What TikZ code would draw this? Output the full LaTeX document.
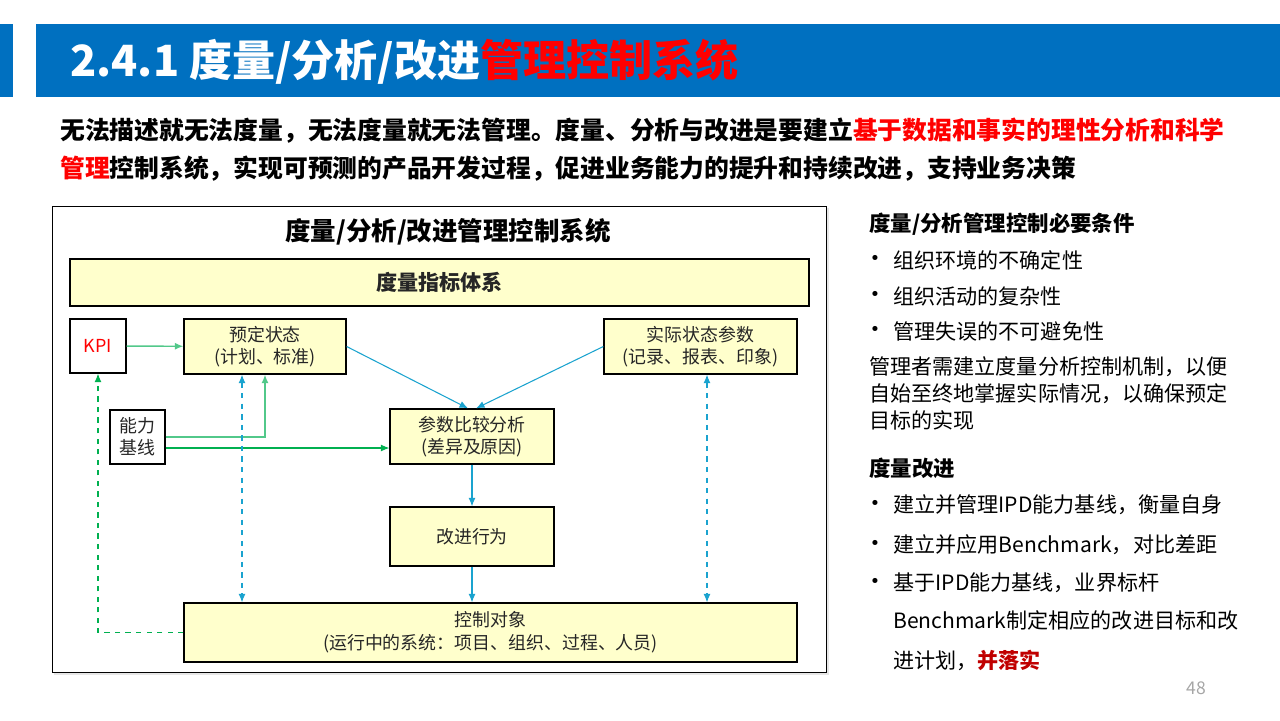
\documentclass[tikz,border=0pt]{standalone}
\usepackage{fontspec}
\setmainfont{Noto Sans CJK SC}
\newfontfamily\dotfont{DejaVu Sans}
\usepackage{tikz}
\usetikzlibrary{positioning,arrows.meta,shadows}
\definecolor{titleblue}{HTML}{0070C0}
\definecolor{boxyellow}{HTML}{FFFFCC}
\definecolor{linkblue}{HTML}{1AA3CF}
\definecolor{linkgreen}{HTML}{00B050}
\definecolor{softgreen}{HTML}{52C88A}
\definecolor{textgray}{HTML}{262626}
\definecolor{darkred}{HTML}{C00000}
\tikzset{
  blueflow/.style={-{Latex[length=1.7mm,width=1.4mm]}, linkblue, line width=0.6pt},
  bluedash/.style={{Latex[length=1.7mm,width=1.4mm]}-{Latex[length=1.7mm,width=1.4mm]}, linkblue, line width=0.6pt, dashed},
  greenflow/.style={-{Latex[length=1.7mm,width=1.4mm]}, linkgreen, line width=0.6pt},
  softflow/.style={-{Latex[length=1.7mm,width=1.4mm]}, softgreen, line width=0.8pt},
  greendash/.style={-{Latex[length=1.7mm,width=1.4mm]}, linkgreen, line width=0.6pt, dashed},
  statebox/.style={draw=black, line width=0.75pt, fill=boxyellow, align=center,
    font=\fontsize{10.2pt}{12.5pt}\selectfont,
    drop shadow={shadow xshift=0.8pt, shadow yshift=-0.8pt, opacity=0.25}},
  plainbox/.style={statebox, fill=white},
  panel/.style={draw=black, line width=0.6pt, fill=white,
    drop shadow={shadow xshift=1pt, shadow yshift=-1pt, opacity=0.2}},
  introtext/.style={anchor=west, text=black, font=\fontsize{14.1pt}{17pt}\selectfont\bfseries},
  sidetext/.style={anchor=west, text=black, font=\fontsize{12pt}{14pt}\selectfont},
  sidehead/.style={sidetext, font=\fontsize{12.2pt}{14pt}\selectfont\bfseries},
  sidedot/.style={text=black, font=\dotfont\fontsize{10pt}{12pt}\selectfont}
}

\begin{document}
\begin{tikzpicture}[x=0.02cm, y=-0.02cm, every node/.style={text=textgray, inner sep=0pt}]
  \useasboundingbox (0,0) rectangle (1280,720);
  % title bar
  \fill[titleblue] (0,24) rectangle (13,97);
  \fill[titleblue] (36,24) rectangle (1280,97);
  \node[anchor=west, text=white, font=\fontsize{24.5pt}{28pt}\selectfont\bfseries] (title) at (70,62)
    {2.4.1 度量/分析/改进\textcolor{red}{管理控制系统}};

  \node[introtext] (intro1) at (60,131) {无法描述就无法度量，无法度量就无法管理。度量、分析与改进是要建立\textcolor{red}{基于数据和事实的理性分析和科学}};
  \node[introtext] (intro2) at (60,169) {\textcolor{red}{管理}控制系统，实现可预测的产品开发过程，促进业务能力的提升和持续改进，支持业务决策};

  % diagram panel
  \node[panel, minimum width=15.5cm, minimum height=9.34cm] (board) at (439.5,439.5) {};
  \node[text=black, font=\fontsize{14.5pt}{18pt}\selectfont\bfseries] (boardtitle) at (448,232) {度量/分析/改进管理控制系统};

  \node[statebox, minimum width=14.78cm, minimum height=0.94cm, font=\fontsize{12pt}{14pt}\selectfont\bfseries] (metrics) at (439.5,282.5) {度量指标体系};
  \node[plainbox, minimum width=1.12cm, minimum height=1.08cm, text=red] (kpi) at (98,346) {KPI};
  \node[statebox, minimum width=3.24cm, minimum height=1.1cm] (plan) at (265,346.5) {预定状态\\(计划、标准)};
  \node[statebox, minimum width=3.86cm, minimum height=1.1cm] (actual) at (700.5,346.5) {实际状态参数\\(记录、报表、印象)};
  \node[plainbox, minimum width=1.1cm, minimum height=1.08cm] (baseline) at (137.5,437) {能力\\基线};
  \node[statebox, minimum width=3.28cm, minimum height=1.1cm] (compare) at (472,436.5) {参数比较分析\\(差异及原因)};
  \node[statebox, minimum width=3.28cm, minimum height=1.18cm] (improve) at (472,536.5) {改进行为};
  \node[statebox, minimum width=12.26cm, minimum height=1.18cm, font=\fontsize{10.2pt}{13pt}\selectfont] (target) at (490.5,632.5) {控制对象\\(运行中的系统：项目、组织、过程、人员)};

  \draw[softflow] (kpi) -- (plan);
  \draw[softflow] (baseline.east) -| (plan.south);
  \draw[greenflow] ([yshift=-0.22cm]baseline.east) -- ([yshift=-0.22cm]baseline.east -| compare.west);
  \draw[blueflow] (plan.east) -- ([xshift=-0.08cm]compare.north);
  \draw[blueflow] (actual.west) -- ([xshift=0.08cm]compare.north);
  \draw[blueflow] (compare) -- (improve);
  \draw[blueflow] (improve.south) -- (improve.south |- target.north);
  \draw[bluedash] ([xshift=-0.46cm]plan.south) -- ([xshift=-0.46cm]plan.south |- target.north);
  \draw[bluedash] ([xshift=0.13cm]actual.south) -- ([xshift=0.13cm]actual.south |- target.north);
  \draw[greendash] (target.west) -| (kpi.south);

  % side notes
  \node[sidehead] (needs) at (869,224) {度量/分析管理控制必要条件};
  \foreach \y/\txt [count=\i] in {260/组织环境的不确定性, 296/组织活动的复杂性, 331/管理失误的不可避免性} {
    \node[sidedot] (needdot\i) at (875,\y) {•};
    \node[sidetext] (need\i) at (893,\y) {\txt};
  }
  \node[sidetext] (para1) at (869,367) {管理者需建立度量分析控制机制，以便};
  \node[sidetext] (para2) at (869,394) {自始至终地掌握实际情况，以确保预定};
  \node[sidetext] (para3) at (869,420) {目标的实现};

  \node[sidehead] (improvehead) at (869,468) {度量改进};
  \foreach \y/\txt [count=\i] in {505/建立并管理IPD能力基线，衡量自身, 545/建立并应用Benchmark，对比差距, 583/基于IPD能力基线，业界标杆} {
    \node[sidedot] (stepdot\i) at (875,\y) {•};
    \node[sidetext] (step\i) at (893,\y) {\txt};
  }
  \node[sidetext] (step4) at (893,620) {Benchmark制定相应的改进目标和改};
  \node[sidetext] (step5) at (893,660) {进计划，\textcolor{darkred}{\bfseries 并落实}};

  \node[text=gray!70, font=\fontsize{10pt}{12pt}\selectfont] (pageno) at (1196,688) {48};
\end{tikzpicture}
\end{document}
